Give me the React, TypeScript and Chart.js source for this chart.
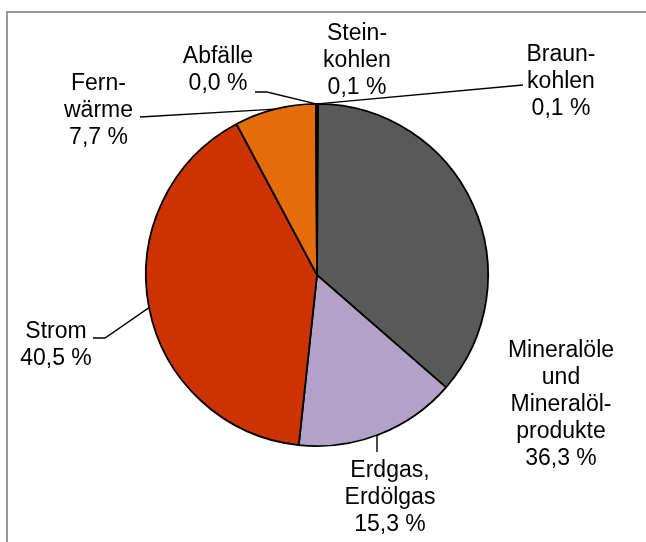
import React, { useEffect, useRef } from "react";
import { Chart, registerables } from "chart.js";

Chart.register(...registerables);

// ---- data ----
const categories = [
  "Braunkohlen",
  "Mineralöle und Mineralölprodukte",
  "Erdgas, Erdölgas",
  "Strom",
  "Fernwärme",
  "Abfälle",
  "Steinkohlen",
];
const shares = [0.1, 36.3, 15.3, 40.5, 7.7, 0.0, 0.1];
const labelLines = [
  ["Braun-", "kohlen"],
  ["Mineralöle", "und", "Mineralöl-", "produkte"],
  ["Erdgas,", "Erdölgas"],
  ["Strom"],
  ["Fern-", "wärme"],
  ["Abfälle"],
  ["Stein-", "kohlen"],
];
const sliceColors = ["#262626", "#595959", "#B3A2C7", "#CC3300", "#E46C0A", "#7F7F7F", "#000000"];

// ---- label layout (relative to pie centre, px) ----
const labelLayout: { dx: number; dy: number; leader: number[][] }[] = [
  { dx: 244, dy: -214, leader: [[206, -190]] },
  { dx: 244, dy: 82, leader: [] },
  { dx: 73, dy: 202, leader: [[60, 161], [60, 177]] },
  { dx: -261, dy: 63, leader: [[-212, 63], [-224, 63]] },
  { dx: -218.5, dy: -185, leader: [[-177, -158]] },
  { dx: -99, dy: -212, leader: [[-50, -183], [-62, -183]] },
  { dx: 40, dy: -235, leader: [] },
];

const FONT = '23px "Liberation Sans", Arial, sans-serif';
const LINE_H = 27;

const fmt = (v: number) => v.toFixed(1).replace(".", ",") + " %";

const labelPlugin = {
  id: "pieLabels",
  afterDatasetsDraw(chart: any) {
    const ctx = chart.ctx as CanvasRenderingContext2D;
    const meta = chart.getDatasetMeta(0);
    ctx.save();
    meta.data.forEach((arc: any, i: number) => {
      const { x, y, startAngle, endAngle, outerRadius } = arc.getProps(
        ["x", "y", "startAngle", "endAngle", "outerRadius"],
        true
      );
      const lay = labelLayout[i];
      const mid = (startAngle + endAngle) / 2;
      const px = x + Math.cos(mid) * outerRadius;
      const py = y + Math.sin(mid) * outerRadius;
      if (lay.leader.length) {
        ctx.beginPath();
        ctx.moveTo(px, py);
        lay.leader.forEach((p) => ctx.lineTo(x + p[0], y + p[1]));
        ctx.strokeStyle = "#000";
        ctx.lineWidth = 1.4;
        ctx.stroke();
      }
      const lines = [...labelLines[i], fmt(shares[i])];
      ctx.font = FONT;
      ctx.fillStyle = "#000";
      ctx.textAlign = "center";
      ctx.textBaseline = "alphabetic";
      lines.forEach((t, k) => {
        ctx.fillText(t, x + lay.dx, y + lay.dy + k * LINE_H);
      });
    });
    ctx.restore();
  },
};

export default function App() {
  const ref = useRef<HTMLCanvasElement | null>(null);
  useEffect(() => {
    if (!ref.current) return;
    const chart = new Chart(ref.current, {
      type: "pie",
      data: {
        labels: categories,
        datasets: [
          {
            data: shares,
            backgroundColor: sliceColors,
            borderColor: "#000",
            borderWidth: 1.8,
            hoverBorderWidth: 1.8,
            hoverOffset: 0,
          },
        ],
      },
      options: {
        responsive: false,
        animation: false,
        events: [],
        layout: { padding: { left: 145, top: 103, right: 157, bottom: 95 } },
        plugins: {
          legend: { display: false },
          tooltip: { enabled: false },
        },
      },
      plugins: [labelPlugin],
    });
    return () => chart.destroy();
  }, []);

  return (
    <div
      style={{
        position: "absolute",
        left: 0,
        top: 0,
        width: 646,
        height: 542,
        overflow: "hidden",
        background: "#fff",
      }}
    >
      <div
        style={{
          position: "absolute",
          left: 6,
          top: 11,
          width: 700,
          height: 700,
          border: "2px solid #999",
        }}
      />
      <canvas ref={ref} width={646} height={542} style={{ position: "absolute", left: 0, top: 0 }} />
    </div>
  );
}
